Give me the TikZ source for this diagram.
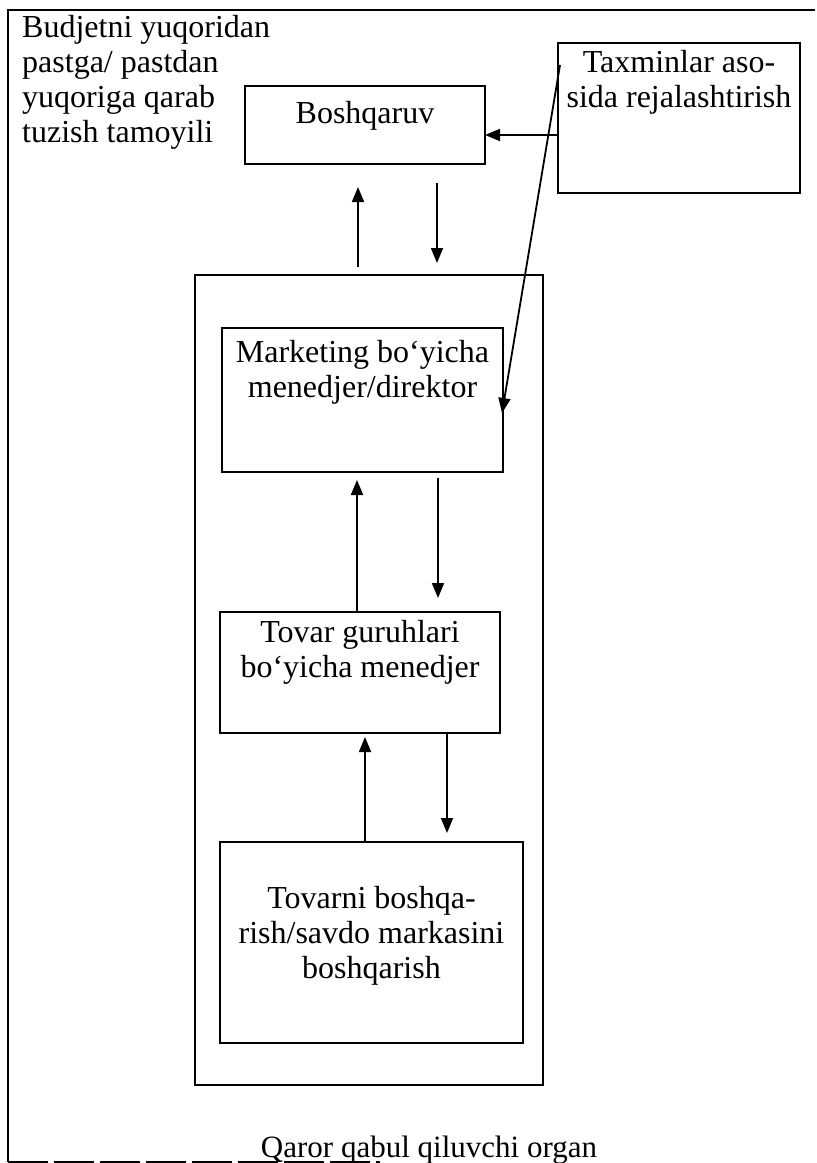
\documentclass[tikz,border=0pt]{standalone}
\usepackage{fontspec}
\setmainfont{Liberation Serif}
\usetikzlibrary{arrows.meta}

% text block of a box: width, height, space above the first line, lines
\newcommand{\boxtext}[4]{\parbox[c][#2][t]{#1}{\centering\vspace*{#3}#4}}

\begin{document}
\begin{tikzpicture}[x=1pt, y=-1pt,
    box/.style={draw, line width=2.2pt, inner sep=0pt, outer sep=0pt,
                font=\fontsize{32}{35}\selectfont},
    arr/.style={-{Triangle[length=15pt,width=12pt]}, line width=1.8pt},
    txt/.style={inner sep=0pt, font=\fontsize{32}{35}\selectfont}]
  \useasboundingbox (0,0) rectangle (817,1163);
  % Page frame
  \draw[line width=2pt] (815,10) -- (8,10) -- (8,1162);
  \draw[line width=1.5pt, dash pattern=on 40pt off 6pt] (8,1162.2) -- (380,1162.2);
  % Heading
  \node[txt, anchor=north west, align=left] (rule) at (22,15)
    {Budjetni yuqoridan\\ pastga/ pastdan\\ yuqoriga qarab\\ tuzish tamoyili};
  % Top level
  \node[box] (boss) at (365,125)
    {\boxtext{240pt}{78pt}{15pt}{Boshqaruv}};
  \node[box] (plan) at (679,118)
    {\boxtext{242pt}{150pt}{7pt}{Taxminlar aso-\\ sida rejalashtirish}};
  % Decision body
  \node[box, minimum width=348pt, minimum height=810pt] (organ) at (369,680) {};
  \node[box] (mkt) at (362.5,400)
    {\boxtext{281pt}{144pt}{12pt}{Marketing bo‘yicha\\ menedjer/direktor}};
  \node[box] (grp) at (360,672.5)
    {\boxtext{280pt}{121pt}{8pt}{Tovar guruhlari\\ bo‘yicha menedjer}};
  \node[box] (goods) at (371.5,942.5)
    {\boxtext{303pt}{201pt}{44pt}{Tovarni boshqa-\\ rish/savdo markasini\\ boshqarish}};
  \node[txt, anchor=base, font=\fontsize{31}{35}\selectfont] (organlbl) at (429,1157)
    {Qaror qabul qiluvchi organ};
  % Arrows
  \draw[arr, shorten <=8pt, shorten >=23pt]
    ([xshift=-11pt]organ.north) -- ([xshift=-7pt]boss.south);
  \draw[arr, shorten <=19pt, shorten >=12pt]
    ([xshift=72pt]boss.south) -- ([xshift=68pt]organ.north);
  \draw[arr] ([yshift=-17pt]plan.west) -- ([yshift=-10pt]boss.east);
  \draw[arr] ([xshift=2pt,yshift=53pt]plan.west) -- ([xshift=-1pt,yshift=-13pt]mkt.east);
  \draw[arr, shorten >=8pt]
    ([xshift=-3pt]grp.north) -- ([xshift=-5.5pt]mkt.south);
  \draw[arr, shorten <=6pt, shorten >=14pt]
    ([xshift=75.5pt]mkt.south) -- ([xshift=78pt]grp.north);
  \draw[arr, shorten >=4pt]
    ([xshift=-6.5pt]goods.north) -- ([xshift=5pt]grp.south);
  \draw[arr, shorten >=9pt]
    ([xshift=87pt]grp.south) -- ([xshift=75.5pt]goods.north);
\end{tikzpicture}
\end{document}
